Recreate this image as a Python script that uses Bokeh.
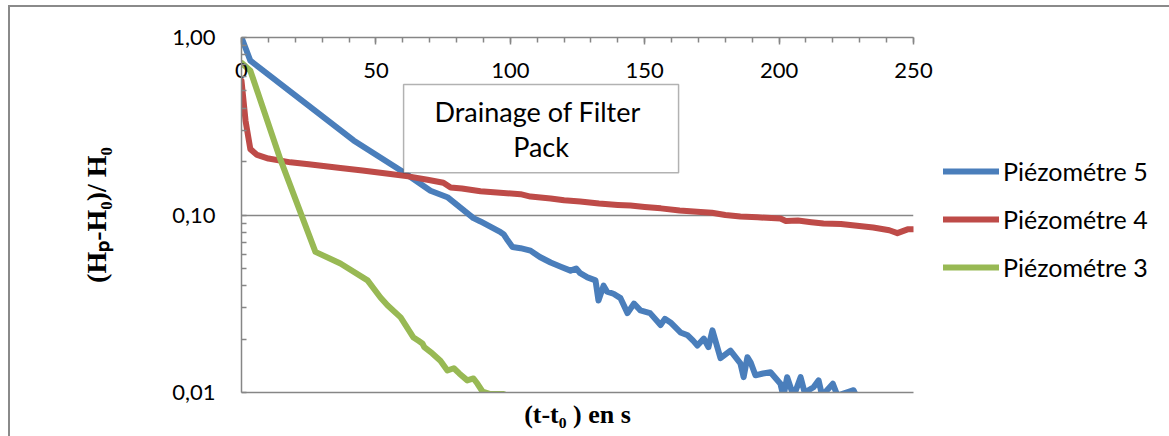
from bokeh.plotting import figure
from bokeh.layouts import row
from bokeh.models import (LinearAxis, FixedTicker, CustomJSTickFormatter, Legend,
                          LegendItem, BoxAnnotation, Label, Range1d)
from bokeh.embed import file_html
from bokeh.resources import INLINE

# ---------------- data ----------------
t_p5 = [0, 3.3, 20, 41.7, 60.3, 70.3, 76.6, 86.3, 88.9, 96.4, 97.5, 99, 100.8, 103.8,
        107.5, 111, 115, 119, 122.4, 124.5, 126, 128.7, 131.7, 132.8, 134.7, 136, 138.4,
        141, 143.6, 146, 148.4, 152, 155.9, 157.5, 159.6, 163.3, 166, 168, 169.6, 172,
        173.7, 175.2, 178.2, 181.9, 185.6, 186.8, 188.2, 189.4, 191.2, 194, 196.8, 200.5,
        201.6, 203, 205.4, 208, 209.5, 212.8, 214.7, 216, 220, 221.7, 225, 227.7, 228.5]
y_p5 = [1.0, 0.74, 0.472, 0.263, 0.174, 0.137, 0.126, 0.096, 0.092, 0.080, 0.078, 0.072,
        0.066, 0.065, 0.063, 0.058, 0.054, 0.051, 0.0486, 0.050, 0.047, 0.0445, 0.0428,
        0.033, 0.040, 0.037, 0.036, 0.034, 0.028, 0.0317, 0.029, 0.028, 0.024, 0.026,
        0.0248, 0.0218, 0.021, 0.0196, 0.0184, 0.0201, 0.018, 0.0224, 0.0156, 0.0172,
        0.0146, 0.0122, 0.0158, 0.0148, 0.0125, 0.0128, 0.0130, 0.0112, 0.0095, 0.0122,
        0.0095, 0.0122, 0.0100, 0.0107, 0.0117, 0.0096, 0.0112, 0.0096, 0.0100, 0.0103,
        0.0097]

t_p4 = [0, 1.5, 3.3, 5.8, 10, 18.2, 25, 36.8, 45, 55.4, 62, 69.2, 75.1, 77.8, 82, 88.9,
        95, 103.8, 107.5, 115, 120, 126, 133, 140, 144.7, 150, 156, 163, 170.8, 175, 180,
        185.6, 192, 200.5, 202.5, 207, 212, 216.5, 223, 229, 235, 241, 244, 247.8, 250]
y_p4 = [0.57, 0.34, 0.235, 0.218, 0.208, 0.198, 0.193, 0.184, 0.178, 0.170, 0.165, 0.158,
        0.152, 0.143, 0.141, 0.136, 0.134, 0.131, 0.127, 0.124, 0.121, 0.119, 0.116,
        0.114, 0.113, 0.111, 0.109, 0.106, 0.104, 0.103, 0.100, 0.098, 0.097, 0.0955,
        0.0925, 0.093, 0.091, 0.0895, 0.089, 0.087, 0.085, 0.082, 0.079, 0.083, 0.083]

t_p3 = [0, 3.3, 14.5, 27.5, 36.8, 46.9, 51.7, 54.3, 59.2, 64, 66, 67.3, 68, 71, 74, 76.6,
        79, 81, 84, 86.3, 87.8, 89.7, 92.6, 97.5]
y_p3 = [0.72, 0.65, 0.205, 0.062, 0.0533, 0.0428, 0.0343, 0.031, 0.0265, 0.0204, 0.0195,
        0.0189, 0.018, 0.0166, 0.0151, 0.0133, 0.0137, 0.0128, 0.0117, 0.012, 0.0112,
        0.0101, 0.0098, 0.0098]

series_names = ["Piézométre 5", "Piézométre 4", "Piézométre 3"]
series_colors = ["#4A7EBB", "#BE4B48", "#98B954"]
series_t = [t_p5, t_p4, t_p3]
series_y = [y_p5, y_p4, y_p3]

x_major = [0, 50, 100, 150, 200, 250]
x_minor = list(range(0, 251, 10))
y_major = [0.01, 0.1, 1.0]
y_minor = [0.02, 0.03, 0.04, 0.05, 0.06, 0.07, 0.08, 0.09,
           0.2, 0.3, 0.4, 0.5, 0.6, 0.7, 0.8, 0.9]

box_text = ["Drainage  of Filter", "Pack"]

# ---------------- main figure ----------------
GREY = "#868686"
TICK_FONT = "Lato"
TICK_SIZE = "22px"
H = 429

p = figure(width=933, height=H, x_range=(0, 250), y_range=(0.01, 1.0),
           y_axis_type="log", x_axis_location="above",
           output_backend="svg", toolbar_location=None,
           min_border_left=231, min_border_top=30, min_border_bottom=44,
           min_border_right=30)
p.outline_line_color = None
p.background_fill_color = "white"
p.border_fill_color = "white"

# top x axis
xa = p.xaxis[0]
xa.ticker = FixedTicker(ticks=x_major, minor_ticks=x_minor)
xa.major_tick_in = 7
xa.major_tick_out = 0
xa.minor_tick_in = 5
xa.minor_tick_out = 0
xa.axis_line_color = GREY
xa.axis_line_width = 1.5
xa.major_tick_line_color = GREY
xa.minor_tick_line_color = GREY
xa.major_tick_line_width = 1.5
xa.minor_tick_line_width = 1.5
xa.major_label_standoff = -40
xa.major_label_text_font = TICK_FONT
xa.major_label_text_font_size = TICK_SIZE
xa.major_label_text_color = "black"

# left y axis
ya = p.yaxis[0]
ya.ticker = FixedTicker(ticks=y_major, minor_ticks=y_minor)
ya.formatter = CustomJSTickFormatter(code="return tick.toFixed(2).replace('.', ',');")
ya.major_tick_in = 5
ya.major_tick_out = 0
ya.minor_tick_in = 5
ya.minor_tick_out = 0
ya.axis_line_color = GREY
ya.axis_line_width = 1.5
ya.major_tick_line_color = GREY
ya.minor_tick_line_color = GREY
ya.major_tick_line_width = 1.5
ya.minor_tick_line_width = 1.5
ya.major_label_standoff = 26
ya.major_label_text_font = TICK_FONT
ya.major_label_text_font_size = TICK_SIZE
ya.major_label_text_color = "black"
ya.axis_label = "(Hₚ-H₀)/ H₀"
ya.axis_label_text_font = "Liberation Serif"
ya.axis_label_text_font_style = "bold"
ya.axis_label_text_font_size = "28px"
ya.axis_label_text_color = "black"
ya.axis_label_standoff = 57

# bottom axis (title only)
xb = LinearAxis(ticker=FixedTicker(ticks=[]), axis_label="(t-t₀ ) en s")
xb.axis_line_color = GREY
xb.axis_line_width = 1.5
xb.axis_label_text_font = "Liberation Serif"
xb.axis_label_text_font_style = "bold"
xb.axis_label_text_font_size = "26px"
xb.axis_label_text_color = "black"
xb.axis_label_standoff = 7
xb.major_label_text_font_size = "0px"
p.add_layout(xb, "below")

p.xgrid.visible = False
p.ygrid.ticker = FixedTicker(ticks=y_major)
p.ygrid.grid_line_color = GREY
p.ygrid.grid_line_width = 1.5

# lines
for xs, ys, c in zip(series_t, series_y, series_colors):
    p.line(xs, ys, line_color=c, line_width=6, line_join="round", line_cap="round")

# text box
box = BoxAnnotation(left=60.3, right=162.6, top=0.543, bottom=0.173,
                    fill_color="white", fill_alpha=1.0, line_color="black",
                    line_width=1.5, level="annotation")
p.add_layout(box)
for txt, yy in zip(box_text, [0.384, 0.244]):
    p.add_layout(Label(x=111.45, y=yy, text=txt, text_align="center",
                       text_baseline="alphabetic", text_font=TICK_FONT,
                       text_font_size="27px", text_color="black"))

# ---------------- legend figure ----------------
# same series, placed outside this panel's visible range: only the legend shows
q = figure(width=226, height=H, x_range=Range1d(1000, 1001), y_range=Range1d(1000, 1001),
           output_backend="svg", toolbar_location=None, min_border=0)
q.axis.visible = False
q.grid.visible = False
q.outline_line_color = None
q.background_fill_color = "white"
q.border_fill_color = "white"
items = []
for n, c, xs, ys in zip(series_names, series_colors, series_t, series_y):
    r = q.line(xs, ys, line_color=c, line_width=6, line_cap="round")
    items.append(LegendItem(label=n, renderers=[r]))
legend = Legend(items=items, location=(0, 110), orientation="vertical")
legend.border_line_color = None
legend.background_fill_alpha = 0
legend.padding = 0
legend.margin = 0
legend.glyph_width = 56
legend.glyph_height = 30
legend.label_height = 30
legend.spacing = 18
legend.label_standoff = 4
legend.label_text_font = TICK_FONT
legend.label_text_font_size = "25px"
legend.label_text_color = "black"
q.add_layout(legend)

layout = row(p, q, styles={"border-left": "2px solid #8a8a8a",
                           "border-top": "2px solid #8a8a8a",
                           "margin-left": "8px", "margin-top": "5px"})

open("out.html", "w").write(file_html(layout, INLINE))
